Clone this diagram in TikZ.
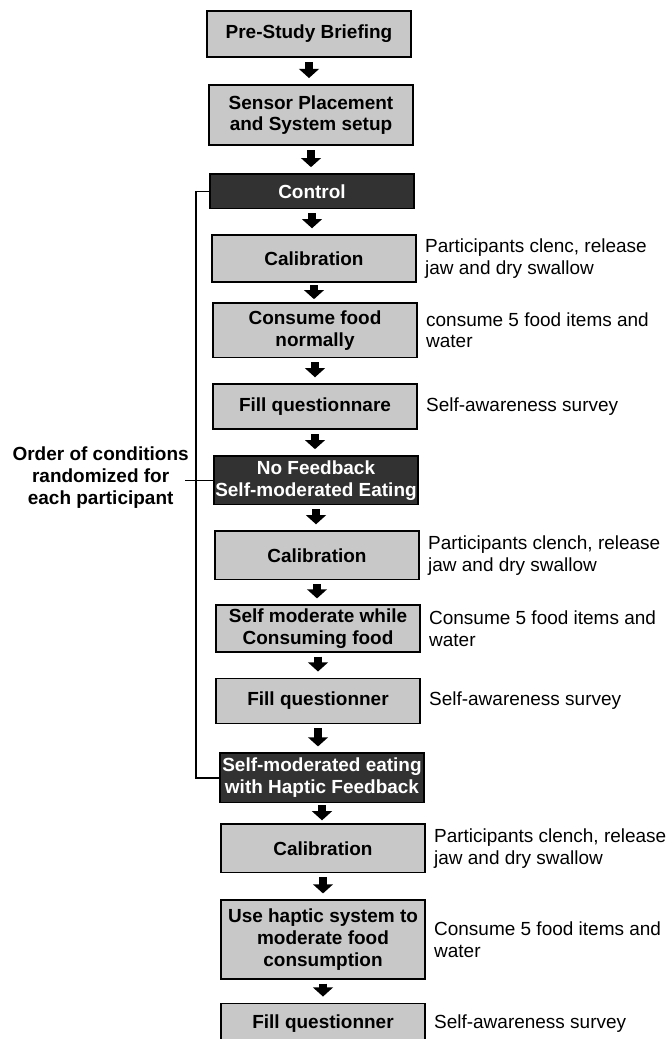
\documentclass[tikz,border=0pt]{standalone}
\usepackage{fontspec}
\setmainfont{Liberation Sans}
\usetikzlibrary{arrows.meta,positioning}
\definecolor{boxgray}{RGB}{200,200,200}
\definecolor{boxdark}{RGB}{50,50,50}

\begin{document}
\begin{tikzpicture}[x=0.025cm,y=-0.025cm,node distance=0.625cm,
		stage/.style={draw,line width=1.2pt,fill=boxgray,minimum width=5.1cm,inner sep=1pt,align=center,font=\bfseries\fontsize{13.5}{15.6}\selectfont},
		cond/.style={stage,fill=boxdark,text=white},
		note/.style={align=left,inner sep=0pt,font=\fontsize{13.5}{15.6}\selectfont},
		flow/.style={-{Triangle[width=14pt,length=6.5pt]},line width=5.5pt,shorten <=0.1cm,shorten >=0.15cm},
		shortflow/.style={flow,shorten <=0.05cm,shorten >=0.075cm},
		bracket/.style={line width=1pt}]
		\useasboundingbox (0,0) rectangle (669,1039);
		% stages
		\node[stage,minimum height=1.16cm] (pre) at (309,34) {Pre-Study Briefing};
		\node[stage,minimum height=1.51cm] (setup) [below=0.65cm of pre,xshift=0.05cm] {Sensor Placement\\and System setup};
		\node[cond,minimum height=0.86cm] (control) [below=0.675cm of setup,xshift=0.025cm] {Control};
		\node[stage,minimum height=1.18cm] (cal1) [below=of control,xshift=0.05cm] {Calibration};
		\node[stage,minimum height=1.36cm] (eat1) [below=0.475cm of cal1,xshift=0.025cm] {Consume food\\normally};
		\node[stage,minimum height=1.13cm] (quest1) [below=of eat1] {Fill questionnare};
		\node[cond,minimum height=1.21cm] (nofb) [below=of quest1,xshift=0.025cm] {No Feedback\\Self-moderated Eating};
		\node[stage,minimum height=1.21cm] (cal2) [below=of nofb,xshift=0.025cm] {Calibration};
		\node[stage,minimum height=1.16cm] (eat2) [below=0.6cm of cal2,xshift=0.025cm] {Self moderate while\\Consuming food};
		\node[stage,minimum height=1.13cm] (quest2) [below=of eat2] {Fill questionner};
		\node[cond,minimum height=1.23cm] (haptic) [below=0.7cm of quest2,xshift=0.1cm] {Self-moderated eating\\with Haptic Feedback};
		\node[stage,minimum height=1.21cm] (cal3) [below=0.5cm of haptic,xshift=0.025cm] {Calibration};
		\node[stage,minimum height=1.96cm] (eat3) [below=0.65cm of cal3] {Use haptic system to\\moderate food\\consumption};
		\node[stage,minimum height=1cm] (quest3) [below=0.575cm of eat3] {Fill questionner};

		\foreach \a/\b in {pre/setup,setup/control,control/cal1,eat1/quest1,quest1/nofb,nofb/cal2,cal2/eat2,eat2/quest2,quest2/haptic,cal3/eat3,eat3/quest3}
			\draw[flow] (\a.south) -- (\a.south |- \b.north);
		\draw[shortflow] (cal1.south) -- (cal1.south |- eat1.north);
		\draw[shortflow] (haptic.south) -- (haptic.south |- cal3.north);

		% notes
		\node[note,right=0.2cm of cal1] (n1) {Participants clenc, release\\jaw and dry swallow};
		\node[note,right=0.2cm of eat1] (n2) {consume 5 food items and\\water};
		\node[note,right=0.2cm of quest1] (n3) {Self-awareness survey};
		\node[note,right=0.2cm of cal2] (n4) {Participants clench, release\\jaw and dry swallow};
		\node[note,right=0.2cm of eat2] (n5) {Consume 5 food items and\\water};
		\node[note,right=0.2cm of quest2] (n6) {Self-awareness survey};
		\node[note,right=0.2cm of cal3] (n7) {Participants clench, release\\jaw and dry swallow};
		\node[note,right=0.2cm of eat3] (n8) {Consume 5 food items and\\water};
		\node[note,right=0.2cm of quest3] (n9) {Self-awareness survey};

		% randomized order bracket
		\coordinate (bx) at (196,0);
		\coordinate (tick) at (185,0);
		\draw[bracket] (control.west) -- (control.west -| bx) -- (haptic.west -| bx) -- (haptic.west);
		\draw[bracket] (nofb.west -| tick) -- (nofb.west);
		\node[note,align=center,anchor=east,font=\bfseries\fontsize{13.5}{15.6}\selectfont] (order) at (189,478) {Order of conditions\\randomized for\\each participant};
\end{tikzpicture}
\end{document}
